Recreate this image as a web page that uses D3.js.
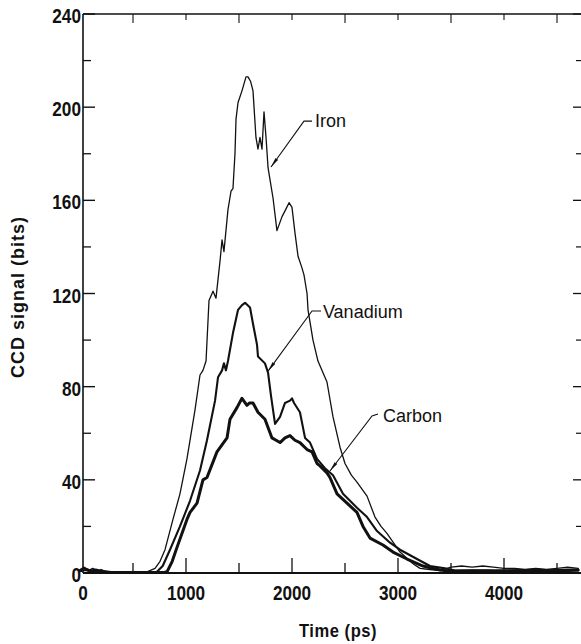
<!DOCTYPE html>
<html>
<head>
<meta charset="utf-8">
<script src="https://cdn.jsdelivr.net/npm/d3@7"></script>
<style>
  html, body { margin: 0; padding: 0; background: #fff; }
  svg { display: block; }
  .tick-label { font-family: "Liberation Sans", Arial, sans-serif; font-weight: bold; font-size: 20px; fill: #111; }
  .axis-title { font-family: "Liberation Sans", Arial, sans-serif; font-weight: bold; fill: #111; }
  .curve-label { font-family: "Liberation Sans", Arial, sans-serif; font-size: 18px; fill: #111; }
</style>
</head>
<body>
<svg id="chart" width="581" height="644"></svg>
<script>
// ---- data (time in ps, CCD signal in bits) ----
const xTickValues = [0, 1000, 2000, 3000, 4000];
const yTickValues = [0, 40, 80, 120, 160, 200, 240];
const xLabel = "Time (ps)";
const yLabel = "CCD signal (bits)";

const ironData = [[0,1.5],[40,2.5],[80,1],[120,2],[160,1],[200,1.5],[250,0.5],[300,0.3],[400,0.5],[500,0.2],[600,0.4],[632,0.5],[708,2],[755,5],[802,10],[877,23],[943,34],[1009,49],[1085,70],[1132,85],[1160,87],[1189,91],[1217,117],[1255,121],[1283,118],[1321,134],[1340,143],[1358,138],[1396,156],[1425,164],[1443,165],[1462,180],[1472,195],[1491,202],[1528,207],[1566,213],[1585,213],[1610,211],[1632,207],[1660,187],[1679,182],[1698,187],[1717,182],[1736,198],[1755,187],[1774,174],[1792,169],[1821,161],[1858,147],[1906,153],[1940,156],[1972,159],[2000,157],[2028,146],[2057,136],[2094,131],[2113,128],[2142,120],[2151,113],[2198,100],[2245,91],[2330,82],[2387,67],[2453,54],[2500,47],[2560,42],[2613,39],[2708,33],[2783,24],[2840,20],[2896,17],[3019,9],[3142,4],[3208,2],[3300,1.5],[3400,1],[3500,2.5],[3600,3],[3700,2.5],[3800,3],[3900,2.5],[4000,2],[4100,2],[4200,1.5],[4300,2],[4400,1.5],[4500,2],[4600,2.5],[4700,2]];

const vanadiumData = [[0,1],[50,2],[100,1],[150,1.5],[200,0.8],[300,0.3],[500,0.3],[700,0.2],[726,0.5],[780,3],[849,10],[943,20],[1038,31],[1132,44],[1198,57],[1274,74],[1302,84],[1340,87],[1358,90],[1377,87],[1396,91],[1443,103],[1491,113],[1528,115],[1557,116],[1604,114],[1632,107],[1670,98],[1679,93],[1745,90],[1774,86],[1802,76],[1840,64],[1887,67],[1934,73],[1981,74],[2000,75],[2019,73],[2075,69],[2123,58],[2170,56],[2236,49],[2311,45],[2387,42],[2481,34],[2613,28],[2708,24],[2802,18],[2925,13],[3019,10],[3179,6],[3302,3],[3443,2],[3550,1],[3700,1],[3850,1.2],[4000,1],[4200,1.3],[4400,1],[4600,1.5],[4700,1.5]];

const carbonData = [[0,1],[50,1.5],[100,0.8],[150,1],[200,0.5],[300,0.2],[600,0.2],[800,0.3],[821,0.5],[870,5],[915,11],[1009,23],[1038,26],[1104,30],[1160,40],[1198,41],[1292,52],[1387,58],[1415,66],[1481,71],[1528,75],[1575,72],[1600,73],[1632,73],[1679,69],[1745,66],[1811,58],[1850,57],[1887,56],[1934,58],[1981,59],[2028,57],[2075,56],[2142,53],[2189,52],[2236,47],[2264,46],[2330,43],[2358,41],[2425,34],[2519,30],[2613,26],[2670,20],[2736,15],[2858,12],[2953,9],[3085,6],[3236,3],[3396,1.3],[3500,0.8],[3700,1],[3900,0.8],[4100,1],[4300,1.2],[4500,1],[4700,1.2]];

// annotation anchors in data units: text position, leader start, elbow, tip
const annotations = [
  { name: "Iron",     text: [2217, 191.5], start: [2189, 194],  elbow: [2113, 194],  tip: [1802, 174.3] },
  { name: "Vanadium", text: [2292, 109.5], start: [2274, 112.5], elbow: [2189, 112.5], tip: [1774, 86.7] },
  { name: "Carbon",   text: [2858, 64.8],  start: [2811, 68.3],  elbow: [2755, 67.4],  tip: [2358, 43.8] }
];

// ---- layout ----
const svg = d3.select("#chart");
const frame = { left: 83, top: 14, right: 582, bottom: 573 };
const x = d3.scaleLinear().domain([0, 4700]).range([80, 578.2]);
const y = d3.scaleLinear().domain([0, 240]).range([frame.bottom, frame.top]);
const squeeze = 0.86; // condensed look of the original lettering

// frame
const g = svg.append("g");
g.append("line").attr("x1", frame.left).attr("x2", frame.left).attr("y1", frame.top).attr("y2", frame.bottom)
  .attr("stroke", "#111").attr("stroke-width", 1.6);
g.append("line").attr("x1", frame.left).attr("x2", frame.right).attr("y1", frame.bottom).attr("y2", frame.bottom)
  .attr("stroke", "#111").attr("stroke-width", 1.8);
g.append("line").attr("x1", frame.left).attr("x2", frame.right).attr("y1", frame.top).attr("y2", frame.top)
  .attr("stroke", "#111").attr("stroke-width", 1.3);
g.append("line").attr("x1", frame.right).attr("x2", frame.right).attr("y1", frame.top).attr("y2", frame.bottom)
  .attr("stroke", "#111").attr("stroke-width", 1.3);

// y ticks (left inward, right inward)
const yMinor = d3.range(20, 240, 40);
yTickValues.forEach(v => {
  g.append("line").attr("x1", frame.left).attr("x2", frame.left + 12).attr("y1", y(v)).attr("y2", y(v)).attr("stroke", "#111").attr("stroke-width", 1.4);
  g.append("line").attr("x1", frame.right).attr("x2", frame.right - 9).attr("y1", y(v)).attr("y2", y(v)).attr("stroke", "#111").attr("stroke-width", 1.3);
});
yMinor.forEach(v => {
  g.append("line").attr("x1", frame.left).attr("x2", frame.left + 8).attr("y1", y(v)).attr("y2", y(v)).attr("stroke", "#111").attr("stroke-width", 1.3);
  g.append("line").attr("x1", frame.right).attr("x2", frame.right - 6).attr("y1", y(v)).attr("y2", y(v)).attr("stroke", "#111").attr("stroke-width", 1.2);
});
// x ticks (bottom upward, top downward)
const xMinor = d3.range(500, 4700, 1000);
xTickValues.filter(v => v > 0).forEach(v => {
  g.append("line").attr("x1", x(v)).attr("x2", x(v)).attr("y1", frame.bottom).attr("y2", frame.bottom - 15).attr("stroke", "#111").attr("stroke-width", 1.3);
  g.append("line").attr("x1", x(v)).attr("x2", x(v)).attr("y1", frame.top).attr("y2", frame.top + 6).attr("stroke", "#111").attr("stroke-width", 1.1);
});
xMinor.forEach(v => {
  g.append("line").attr("x1", x(v)).attr("x2", x(v)).attr("y1", frame.bottom).attr("y2", frame.bottom - 10).attr("stroke", "#111").attr("stroke-width", 1.3);
  g.append("line").attr("x1", x(v)).attr("x2", x(v)).attr("y1", frame.top).attr("y2", frame.top + 9).attr("stroke", "#111").attr("stroke-width", 1.1);
});

// tick labels (horizontally condensed)
g.selectAll(".ylab").data(yTickValues).enter().append("text")
  .attr("class", "tick-label").attr("text-anchor", "end")
  .attr("transform", d => `translate(${frame.left - 2},${y(d) + 9}) scale(${squeeze},1)`)
  .text(d => d);
g.selectAll(".xlab").data(xTickValues).enter().append("text")
  .attr("class", "tick-label").attr("text-anchor", "middle")
  .attr("transform", d => `translate(${d === 0 ? frame.left : x(d)},600) scale(${squeeze},1)`)
  .text(d => d);

// axis titles
svg.append("text").attr("class", "axis-title").attr("text-anchor", "middle")
  .attr("transform", "translate(24,297) rotate(-90)")
  .style("font-size", "18px").style("letter-spacing", "1px")
  .text(yLabel);
svg.append("text").attr("class", "axis-title").attr("text-anchor", "middle")
  .attr("transform", "translate(338,637) scale(0.92,1)")
  .style("font-size", "18px").style("letter-spacing", "0.6px")
  .text(xLabel);

// curves
const line = d3.line().x(d => x(d[0])).y(d => y(d[1]));
const series = [
  { data: ironData, w: 1.3 },
  { data: vanadiumData, w: 2.1 },
  { data: carbonData, w: 3.0 }
];
series.forEach(s => {
  svg.append("path").datum(s.data).attr("d", line)
    .attr("fill", "none").attr("stroke", "#111").attr("stroke-width", s.w)
    .attr("stroke-linejoin", "round").attr("stroke-linecap", "round");
});

// annotations
svg.append("defs").append("marker").attr("id", "arrow")
  .attr("viewBox", "0 0 10 4").attr("refX", 10).attr("refY", 2)
  .attr("markerWidth", 10).attr("markerHeight", 4).attr("markerUnits", "userSpaceOnUse")
  .attr("orient", "auto")
  .append("path").attr("d", "M0,0.4 L10,2 L0,3.6 Z").attr("fill", "#111");

annotations.forEach(a => {
  svg.append("polyline")
    .attr("points", [a.start, a.elbow, a.tip].map(p => [x(p[0]), y(p[1])].join(",")).join(" "))
    .attr("fill", "none").attr("stroke", "#111").attr("stroke-width", 1.1)
    .attr("marker-end", "url(#arrow)");
  svg.append("text").attr("class", "curve-label")
    .attr("x", x(a.text[0])).attr("y", y(a.text[1]))
    .text(a.name);
});
</script>
</body>
</html>
